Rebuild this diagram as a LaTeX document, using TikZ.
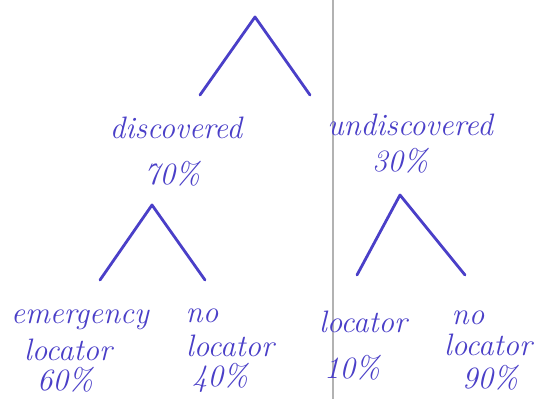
\documentclass[tikz,border=0pt]{standalone}
\usepackage{fontspec}
\setmainfont{Latin Modern Roman}
\definecolor{ink}{HTML}{4A3FC8}
\tikzset{
  branch/.style={draw=ink, line width=2.8pt, line cap=round, line join=round},
  lbl/.style={text=ink, font=\itshape\fontsize{31}{33}\selectfont, inner sep=0pt, anchor=center},
}
\begin{document}
\begin{tikzpicture}[x=1pt,y=-1pt]
\useasboundingbox (0,0) rectangle (541,399);
\fill[white] (0,0) rectangle (541,399);
\draw[gray!60, line width=1.2pt] (333,0) -- (333,399);
% top
\coordinate (top) at (255,17);
\coordinate (tl) at (200,95);
\coordinate (tr) at (310,95);
\draw[branch] (tl) -- (top) -- (tr);
\node[lbl] (disc) at (176,128) {discovered};
\node[lbl] (p70) at (172,174) {70\%};
\node[lbl] (und) at (410,125) {undiscovered};
\node[lbl] (p30) at (400,161) {30\%};
% left subtree
\coordinate (la) at (152,205);
\coordinate (ll) at (100,280);
\coordinate (lr) at (205,280);
\draw[branch] (ll) -- (la) -- (lr);
% right subtree
\coordinate (ra) at (400,195);
\coordinate (rl) at (357,275);
\coordinate (rr) at (465,275);
\draw[branch] (rl) -- (ra) -- (rr);
% leaves
\node[lbl] (em) at (80,320) {emergency};
\node[lbl] (eml) at (68,350) {locator};
\node[lbl] (p60) at (65,380) {60\%};
\node[lbl] (no1) at (202,316) {no};
\node[lbl] (nol1) at (230,346) {locator};
\node[lbl] (p40) at (220,378) {40\%};
\node[lbl] (loc) at (363,322) {locator};
\node[lbl] (p10) at (352,368) {10\%};
\node[lbl] (no2) at (468,318) {no};
\node[lbl] (nol2) at (488,345) {locator};
\node[lbl] (p90) at (490,378) {90\%};
\end{tikzpicture}
\end{document}
